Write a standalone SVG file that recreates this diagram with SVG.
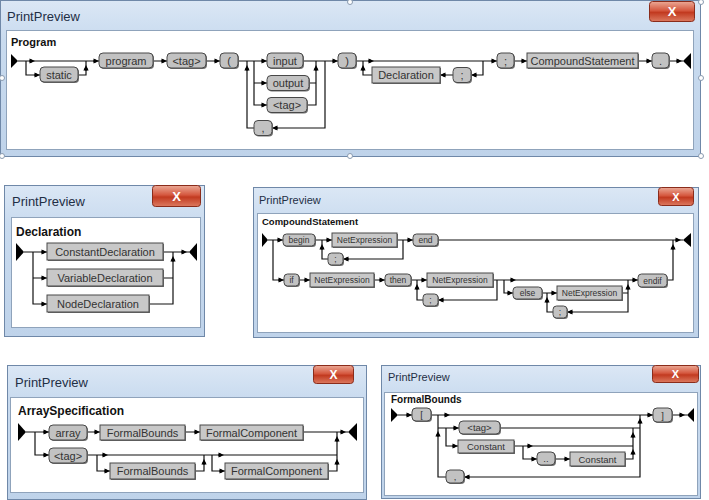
<svg xmlns="http://www.w3.org/2000/svg" xmlns:xlink="http://www.w3.org/1999/xlink" width="709" height="500" viewBox="0 0 709 500">
<defs>
<linearGradient id="fg" x1="0" y1="0" x2="0" y2="1">
<stop offset="0" stop-color="#dbe7f5"/><stop offset="0.25" stop-color="#c9dbef"/><stop offset="1" stop-color="#bfd3ea"/>
</linearGradient>
<linearGradient id="cg" x1="0" y1="0" x2="0" y2="1">
<stop offset="0" stop-color="#eba996"/><stop offset="0.45" stop-color="#d5583f"/><stop offset="0.55" stop-color="#c23a20"/><stop offset="1" stop-color="#dc7a60"/>
</linearGradient>
<g id="ah"><circle cx="-4" cy="0" r="1.6"/><path d="M-5.5,-2.6 L0,0 L-5.5,2.6 Z"/></g>
</defs>
<style>
.frame{fill:url(#fg);stroke:#6f88a8;stroke-width:1}
.inner{fill:#ffffff;stroke:#8fa3bb;stroke-width:1}
.ttl{font-family:"Liberation Sans",Arial,sans-serif;fill:#1f2f45}
.close{fill:url(#cg);stroke:#8a2c1b;stroke-width:1}
.cx{font-family:"Liberation Sans",Arial,sans-serif;font-weight:bold;fill:#ffffff;text-anchor:middle}
.hd{font-family:"Liberation Sans",Arial,sans-serif;font-weight:bold;fill:#111}
.t{fill:#c2c2c2;stroke:#484848;stroke-width:1}
.n{fill:#c8c8c8;stroke:#484848;stroke-width:1}
.sh{fill:#707070}
.l{font-family:"Liberation Sans",Arial,sans-serif;fill:#333;text-anchor:middle}
.w{fill:none;stroke:#111;stroke-width:1.2}
.hdl{fill:#ffffff;stroke:#8a9bb0;stroke-width:1}
.s11{font-size:11px}.s10{font-size:10.5px}.s85{font-size:8.5px}.s95{font-size:9.5px}
</style>

<!-- ================= Window 1: Program ================= -->
<g id="win-program">
<rect class="frame" x="0.5" y="0.5" width="700" height="156"/>
<text class="ttl" x="7" y="21" font-size="13">PrintPreview</text>
<rect class="close" x="649.5" y="1.5" width="45" height="20" rx="3"/>
<text class="cx" x="672" y="16" font-size="13">X</text>
<rect class="inner" x="6.5" y="30.5" width="687" height="119"/>
<text class="hd" x="11" y="46" font-size="11">Program</text>
<polygon points="11,54 18,61 11,68" fill="#000"/>
<polygon points="691,53 683,61 691,69" fill="#000"/>
</g>
<g id="handles">
<circle class="hdl" cx="350" cy="2" r="2.5"/><circle class="hdl" cx="701" cy="2" r="2.5"/>
<circle class="hdl" cx="701" cy="78" r="2.5"/><circle class="hdl" cx="701" cy="156" r="2.5"/>
<circle class="hdl" cx="350" cy="156" r="2.5"/><circle class="hdl" cx="2" cy="156" r="2.5"/>
<circle class="hdl" cx="2" cy="78" r="2.5"/>
</g>
<g id="conn-program">
<path class="w" d="M18,61 H99 M26,61 V75 H40 M78,75 H86 V61 M153,61 H167 M206,61 H220 M238,61 H267 M247,61 V128 H254 M254,61 V105 H267 M254,83 H267 M303,61 H338 M309,83 H316 M307,105 H316 V61 M325,61 V128 H272 M356,61 H497 M483,61 V75 H471 M453,75 H440 M372,75 H363 V61 M514,61 H527 M638,61 H652 M669,61 H683"/>
<use xlink:href="#ah" transform="translate(35,61)"/>
<use xlink:href="#ah" transform="translate(40,75)"/>
<use xlink:href="#ah" transform="translate(86,65) rotate(-90)"/>
<use xlink:href="#ah" transform="translate(99,61)"/>
<use xlink:href="#ah" transform="translate(167,61)"/>
<use xlink:href="#ah" transform="translate(220,61)"/>
<use xlink:href="#ah" transform="translate(247,65) rotate(-90)"/>
<use xlink:href="#ah" transform="translate(267,61)"/>
<use xlink:href="#ah" transform="translate(267,83)"/>
<use xlink:href="#ah" transform="translate(267,105)"/>
<use xlink:href="#ah" transform="translate(316,65) rotate(-90)"/>
<use xlink:href="#ah" transform="translate(272,128) rotate(180)"/>
<use xlink:href="#ah" transform="translate(338,61)"/>
<use xlink:href="#ah" transform="translate(374,61)"/>
<use xlink:href="#ah" transform="translate(471,75) rotate(180)"/>
<use xlink:href="#ah" transform="translate(440,75) rotate(180)"/>
<use xlink:href="#ah" transform="translate(363,65) rotate(-90)"/>
<use xlink:href="#ah" transform="translate(497,61)"/>
<use xlink:href="#ah" transform="translate(527,61)"/>
<use xlink:href="#ah" transform="translate(652,61)"/>
<use xlink:href="#ah" transform="translate(682,61)"/>
</g>
<g id="p-static"><rect class="sh" x="41" y="68" width="38" height="15" rx="4"/><rect class="t" x="40" y="67" width="38" height="15" rx="4"/><text class="l s11" x="59" y="78.5">static</text></g>
<g id="p-program"><rect class="sh" x="100" y="54" width="54" height="15" rx="4"/><rect class="t" x="99" y="53" width="54" height="15" rx="4"/><text class="l s11" x="126" y="64.5">program</text></g>
<g id="p-tag1"><rect class="sh" x="168" y="54" width="39" height="15" rx="4"/><rect class="t" x="167" y="53" width="39" height="15" rx="4"/><text class="l s11" x="186.5" y="64.5">&lt;tag&gt;</text></g>
<g id="p-lparen"><rect class="sh" x="221" y="54" width="18" height="15" rx="4"/><rect class="t" x="220" y="53" width="18" height="15" rx="4"/><text class="l s11" x="229" y="64.5">(</text></g>
<g id="p-input"><rect class="sh" x="268" y="54" width="36" height="15" rx="4"/><rect class="t" x="267" y="53" width="36" height="15" rx="4"/><text class="l s11" x="285" y="64.5">input</text></g>
<g id="p-output"><rect class="sh" x="268" y="76.5" width="42" height="15" rx="4"/><rect class="t" x="267" y="75.5" width="42" height="15" rx="4"/><text class="l s11" x="288" y="87">output</text></g>
<g id="p-tag2"><rect class="sh" x="268" y="98.5" width="40" height="15" rx="4"/><rect class="t" x="267" y="97.5" width="40" height="15" rx="4"/><text class="l s11" x="287" y="109">&lt;tag&gt;</text></g>
<g id="p-comma"><rect class="sh" x="255" y="121.5" width="18" height="15" rx="4"/><rect class="t" x="254" y="120.5" width="18" height="15" rx="4"/><text class="l s11" x="263" y="132">,</text></g>
<g id="p-rparen"><rect class="sh" x="339" y="54" width="18" height="15" rx="4"/><rect class="t" x="338" y="53" width="18" height="15" rx="4"/><text class="l s11" x="347" y="64.5">)</text></g>
<g id="p-declaration"><rect class="sh" x="373" y="68" width="68" height="16"/><rect class="n" x="372" y="67" width="68" height="16"/><text class="l s11" x="406" y="79">Declaration</text></g>
<g id="p-semi1"><rect class="sh" x="454" y="68.5" width="18" height="15" rx="4"/><rect class="t" x="453" y="67.5" width="18" height="15" rx="4"/><text class="l s11" x="462" y="78.5">;</text></g>
<g id="p-semi2"><rect class="sh" x="498" y="54" width="17" height="15" rx="4"/><rect class="t" x="497" y="53" width="17" height="15" rx="4"/><text class="l s11" x="505.5" y="64.5">;</text></g>
<g id="p-compound"><rect class="sh" x="528" y="54" width="111" height="15"/><rect class="n" x="527" y="53" width="111" height="15"/><text class="l s11" x="582.5" y="64.5">CompoundStatement</text></g>
<g id="p-dot"><rect class="sh" x="653" y="54" width="17" height="15" rx="4"/><rect class="t" x="652" y="53" width="17" height="15" rx="4"/><text class="l s11" x="660.5" y="64.5">.</text></g>

<!-- ================= Window 2: Declaration ================= -->
<g id="win-declaration">
<rect class="frame" x="4.5" y="185.5" width="200" height="151"/>
<text class="ttl" x="12" y="206" font-size="13">PrintPreview</text>
<rect class="close" x="152.5" y="185.5" width="48" height="21" rx="3"/>
<text class="cx" x="176.5" y="200.5" font-size="13">X</text>
<rect class="inner" x="11.5" y="217.5" width="189" height="110"/>
<text class="hd" x="16" y="236" font-size="12">Declaration</text>
<polygon points="16,243 24,252 16,261" fill="#000"/>
<polygon points="197,243 189,252 197,261" fill="#000"/>
</g>
<g id="conn-declaration">
<path class="w" d="M24,252 H47 M33,252 V304 H47 M33,278 H47 M163,252 H189 M163,278 H173 M149,304 H173 V252"/>
<use xlink:href="#ah" transform="translate(47,252)"/>
<use xlink:href="#ah" transform="translate(47,278)"/>
<use xlink:href="#ah" transform="translate(47,304)"/>
<use xlink:href="#ah" transform="translate(187,252)"/>
<use xlink:href="#ah" transform="translate(173,256) rotate(-90)"/>
</g>
<g id="d-const"><rect class="sh" x="48" y="244" width="116" height="17"/><rect class="n" x="47" y="243" width="116" height="17"/><text class="l s11" x="105" y="255.5">ConstantDeclaration</text></g>
<g id="d-var"><rect class="sh" x="48" y="270" width="116" height="17"/><rect class="n" x="47" y="269" width="116" height="17"/><text class="l s11" x="105" y="281.5">VariableDeclaration</text></g>
<g id="d-node"><rect class="sh" x="48" y="296" width="102" height="17"/><rect class="n" x="47" y="295" width="102" height="17"/><text class="l s11" x="98" y="307.5">NodeDeclaration</text></g>

<!-- ================= Window 3: CompoundStatement ================= -->
<g id="win-compound">
<rect class="frame" x="253.5" y="187.5" width="445" height="150"/>
<text class="ttl" x="259" y="204" font-size="11">PrintPreview</text>
<rect class="close" x="658.5" y="187.5" width="35" height="18" rx="3"/>
<text class="cx" x="676" y="200.5" font-size="11">X</text>
<rect class="inner" x="257.5" y="213.5" width="436" height="119"/>
<text class="hd" x="262" y="225" font-size="9.5">CompoundStatement</text>
<polygon points="262,233 268,240 262,247" fill="#000"/>
<polygon points="691,233 683,240 691,247" fill="#000"/>
</g>
<g id="conn-compound">
<path class="w" d="M268,240 H283 M315,240 H332 M397,240 H413 M403,240 V259 H343 M328,259 H322 V240 M438,240 H683 M273,240 V280 H284 M299,280 H310 M374,280 H385 M411,280 H427 M417,280 V300 H423 M493,280 H638 M497,280 V300 H438 M504,280 V293 H513 M542,293 H557 M547,293 V312 H553 M622,293 H628 V280 M628,293 V312 H567 M667,280 H673 V240"/>
<use xlink:href="#ah" transform="translate(283,240)"/>
<use xlink:href="#ah" transform="translate(332,240)"/>
<use xlink:href="#ah" transform="translate(322,244) rotate(-90)"/>
<use xlink:href="#ah" transform="translate(343,259) rotate(180)"/>
<use xlink:href="#ah" transform="translate(413,240)"/>
<use xlink:href="#ah" transform="translate(681,240)"/>
<use xlink:href="#ah" transform="translate(673,244) rotate(-90)"/>
<use xlink:href="#ah" transform="translate(284,280)"/>
<use xlink:href="#ah" transform="translate(310,280)"/>
<use xlink:href="#ah" transform="translate(385,280)"/>
<use xlink:href="#ah" transform="translate(427,280)"/>
<use xlink:href="#ah" transform="translate(417,284) rotate(-90)"/>
<use xlink:href="#ah" transform="translate(438,300) rotate(180)"/>
<use xlink:href="#ah" transform="translate(516,280)"/>
<use xlink:href="#ah" transform="translate(638,280)"/>
<use xlink:href="#ah" transform="translate(513,293)"/>
<use xlink:href="#ah" transform="translate(557,293)"/>
<use xlink:href="#ah" transform="translate(547,297) rotate(-90)"/>
<use xlink:href="#ah" transform="translate(567,312) rotate(180)"/>
<use xlink:href="#ah" transform="translate(628,284) rotate(-90)"/>
</g>
<g id="c-begin"><rect class="sh" x="284" y="235" width="32" height="12" rx="3.5"/><rect class="t" x="283" y="234" width="32" height="12" rx="3.5"/><text class="l s85" x="299" y="243">begin</text></g>
<g id="c-netexp1"><rect class="sh" x="333" y="234" width="65" height="14"/><rect class="n" x="332" y="233" width="65" height="14"/><text class="l s85" x="364.5" y="243">NetExpression</text></g>
<g id="c-semi1"><rect class="sh" x="329" y="254" width="15" height="12" rx="3.5"/><rect class="t" x="328" y="253" width="15" height="12" rx="3.5"/><text class="l s85" x="335.5" y="262">;</text></g>
<g id="c-end"><rect class="sh" x="414" y="235" width="25" height="12" rx="3.5"/><rect class="t" x="413" y="234" width="25" height="12" rx="3.5"/><text class="l s85" x="425.5" y="243">end</text></g>
<g id="c-if"><rect class="sh" x="285" y="275" width="15" height="12" rx="3.5"/><rect class="t" x="284" y="274" width="15" height="12" rx="3.5"/><text class="l s85" x="291.5" y="283">if</text></g>
<g id="c-netexp2"><rect class="sh" x="311" y="274" width="64" height="14"/><rect class="n" x="310" y="273" width="64" height="14"/><text class="l s85" x="342" y="283">NetExpression</text></g>
<g id="c-then"><rect class="sh" x="386" y="275" width="26" height="12" rx="3.5"/><rect class="t" x="385" y="274" width="26" height="12" rx="3.5"/><text class="l s85" x="398" y="283">then</text></g>
<g id="c-semi2"><rect class="sh" x="424" y="295" width="15" height="12" rx="3.5"/><rect class="t" x="423" y="294" width="15" height="12" rx="3.5"/><text class="l s85" x="430.5" y="303">;</text></g>
<g id="c-netexp3"><rect class="sh" x="428" y="274" width="66" height="14"/><rect class="n" x="427" y="273" width="66" height="14"/><text class="l s85" x="460" y="283">NetExpression</text></g>
<g id="c-else"><rect class="sh" x="514" y="288" width="29" height="12" rx="3.5"/><rect class="t" x="513" y="287" width="29" height="12" rx="3.5"/><text class="l s85" x="527.5" y="296">else</text></g>
<g id="c-semi3"><rect class="sh" x="554" y="307" width="14" height="12" rx="3.5"/><rect class="t" x="553" y="306" width="14" height="12" rx="3.5"/><text class="l s85" x="560" y="315">;</text></g>
<g id="c-netexp4"><rect class="sh" x="558" y="287" width="65" height="14"/><rect class="n" x="557" y="286" width="65" height="14"/><text class="l s85" x="589.5" y="296">NetExpression</text></g>
<g id="c-endif"><rect class="sh" x="639" y="275" width="29" height="13" rx="3.5"/><rect class="t" x="638" y="274" width="29" height="13" rx="3.5"/><text class="l s85" x="652.5" y="283.5">endif</text></g>

<!-- ================= Window 4: ArraySpecification ================= -->
<g id="win-array">
<rect class="frame" x="7.5" y="365.5" width="359" height="134"/>
<text class="ttl" x="15" y="387" font-size="13">PrintPreview</text>
<rect class="close" x="313.5" y="365.5" width="40" height="18" rx="3"/>
<text class="cx" x="333.5" y="379" font-size="12">X</text>
<rect class="inner" x="10.5" y="397.5" width="353" height="95"/>
<text class="hd" x="18" y="415" font-size="12">ArraySpecification</text>
<polygon points="18,423 26,432 18,441" fill="#000"/>
<polygon points="357,423 348,432 357,441" fill="#000"/>
</g>
<g id="conn-array">
<path class="w" d="M26,432 H49 M35,432 V455 H49 M87,432 H100 M185,432 H200 M303,432 H348 M87,455 H337 M97,455 V471 H110 M195,471 H204 V455 M212,455 V471 H225 M328,471 H337 V432"/>
<use xlink:href="#ah" transform="translate(49,432)"/>
<use xlink:href="#ah" transform="translate(49,455)"/>
<use xlink:href="#ah" transform="translate(100,432)"/>
<use xlink:href="#ah" transform="translate(200,432)"/>
<use xlink:href="#ah" transform="translate(346,432)"/>
<use xlink:href="#ah" transform="translate(337,436) rotate(-90)"/>
<use xlink:href="#ah" transform="translate(110,471)"/>
<use xlink:href="#ah" transform="translate(108,455)"/>
<use xlink:href="#ah" transform="translate(204,459) rotate(-90)"/>
<use xlink:href="#ah" transform="translate(225,471)"/>
<use xlink:href="#ah" transform="translate(224,455)"/>
<use xlink:href="#ah" transform="translate(337,459) rotate(-90)"/>
</g>
<g id="a-array"><rect class="sh" x="50" y="426" width="38" height="15" rx="4"/><rect class="t" x="49" y="425" width="38" height="15" rx="4"/><text class="l s11" x="68" y="436.5">array</text></g>
<g id="a-fb1"><rect class="sh" x="101" y="426" width="85" height="15"/><rect class="n" x="100" y="425" width="85" height="15"/><text class="l s11" x="142.5" y="436.5">FormalBounds</text></g>
<g id="a-fc1"><rect class="sh" x="201" y="426" width="103" height="15"/><rect class="n" x="200" y="425" width="103" height="15"/><text class="l s11" x="251.5" y="436.5">FormalComponent</text></g>
<g id="a-tag"><rect class="sh" x="50" y="449" width="38" height="15" rx="4"/><rect class="t" x="49" y="448" width="38" height="15" rx="4"/><text class="l s11" x="68" y="459.5">&lt;tag&gt;</text></g>
<g id="a-fb2"><rect class="sh" x="111" y="464" width="85" height="16"/><rect class="n" x="110" y="463" width="85" height="16"/><text class="l s11" x="152.5" y="475">FormalBounds</text></g>
<g id="a-fc2"><rect class="sh" x="226" y="464" width="103" height="16"/><rect class="n" x="225" y="463" width="103" height="16"/><text class="l s11" x="276.5" y="475">FormalComponent</text></g>

<!-- ================= Window 5: FormalBounds ================= -->
<g id="win-formalbounds">
<rect class="frame" x="381.5" y="365.5" width="319" height="133"/>
<text class="ttl" x="388" y="381" font-size="11">PrintPreview</text>
<rect class="close" x="652.5" y="365.5" width="46" height="17" rx="3"/>
<text class="cx" x="675.5" y="378" font-size="11">X</text>
<rect class="inner" x="384.5" y="392.5" width="313" height="103"/>
<text class="hd" x="391" y="403" font-size="10">FormalBounds</text>
<polygon points="391,408 398,415 391,422" fill="#000"/>
<polygon points="694,408 687,415 694,422" fill="#000"/>
</g>
<g id="conn-formalbounds">
<path class="w" d="M398,415 H412 M431,415 H653 M438,415 V477 H446 M438,428 H459 M446,428 V446 H458 M500,428 H640 M640,415 V477 H464 M514,446 H633 M523,446 V459 H537 M555,459 H570 M625,459 H633 V428 M672,415 H687"/>
<use xlink:href="#ah" transform="translate(412,415)"/>
<use xlink:href="#ah" transform="translate(450,415)"/>
<use xlink:href="#ah" transform="translate(653,415)"/>
<use xlink:href="#ah" transform="translate(685,415)"/>
<use xlink:href="#ah" transform="translate(459,428)"/>
<use xlink:href="#ah" transform="translate(458,446)"/>
<use xlink:href="#ah" transform="translate(438,431) rotate(-90)"/>
<use xlink:href="#ah" transform="translate(640,418) rotate(-90)"/>
<use xlink:href="#ah" transform="translate(464,477) rotate(180)"/>
<use xlink:href="#ah" transform="translate(533,446)"/>
<use xlink:href="#ah" transform="translate(537,459)"/>
<use xlink:href="#ah" transform="translate(570,459)"/>
<use xlink:href="#ah" transform="translate(633,449) rotate(-90)"/>
<use xlink:href="#ah" transform="translate(633,432) rotate(-90)"/>
</g>
<g id="f-lbrack"><rect class="sh" x="413" y="409" width="19" height="13" rx="4"/><rect class="t" x="412" y="408" width="19" height="13" rx="4"/><text class="l s95" x="421.5" y="418">[</text></g>
<g id="f-rbrack"><rect class="sh" x="654" y="409" width="19" height="14" rx="4"/><rect class="t" x="653" y="408" width="19" height="14" rx="4"/><text class="l s95" x="662.5" y="418.5">]</text></g>
<g id="f-tag"><rect class="sh" x="460" y="422" width="41" height="13" rx="4"/><rect class="t" x="459" y="421" width="41" height="13" rx="4"/><text class="l s95" x="479.5" y="431">&lt;tag&gt;</text></g>
<g id="f-const1"><rect class="sh" x="459" y="441" width="56" height="13"/><rect class="n" x="458" y="440" width="56" height="13"/><text class="l s95" x="486" y="450">Constant</text></g>
<g id="f-range"><rect class="sh" x="538" y="453" width="18" height="13" rx="4"/><rect class="t" x="537" y="452" width="18" height="13" rx="4"/><text class="l s95" x="546" y="462">..</text></g>
<g id="f-const2"><rect class="sh" x="571" y="453" width="55" height="14"/><rect class="n" x="570" y="452" width="55" height="14"/><text class="l s95" x="597.5" y="462.5">Constant</text></g>
<g id="f-comma"><rect class="sh" x="447" y="471" width="18" height="13" rx="4"/><rect class="t" x="446" y="470" width="18" height="13" rx="4"/><text class="l s95" x="455" y="480">,</text></g>
</svg>
